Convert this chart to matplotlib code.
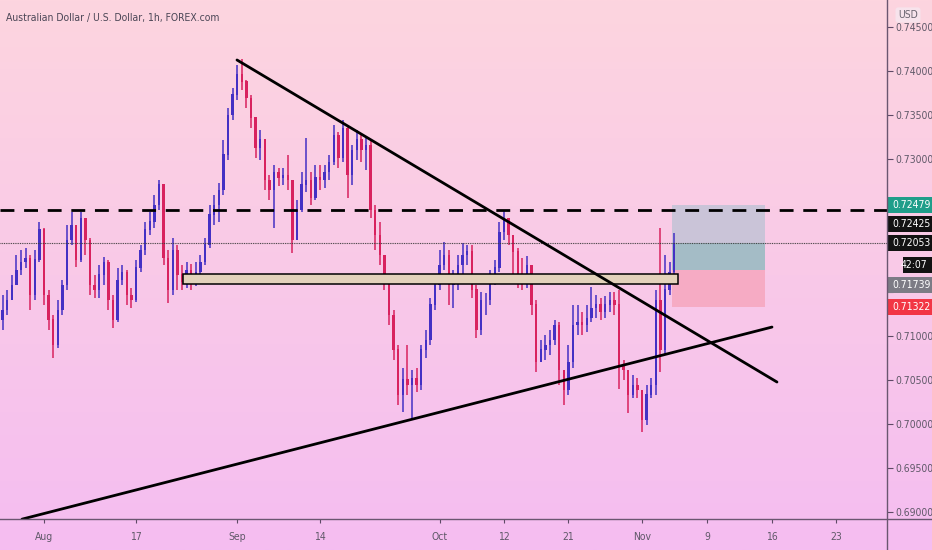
import numpy as np
import matplotlib.pyplot as plt
from matplotlib.patches import Rectangle
from matplotlib.transforms import blended_transform_factory
from matplotlib.lines import Line2D

plt.rcParams['font.family'] = ['DejaVu Sans']
plt.rcParams['font.stretch'] = 'condensed'

# AUD/USD, 12h bars starting Jul 27 2020; x unit = trading day (0 = Aug 3)
start_day = -5.0
bar_step = 0.5
first_open = 0.7125
close = [0.7118, 0.7129, 0.7140, 0.7157, 0.7174, 0.7183, 0.7188, 0.7146, 0.7186, 0.7220,
         0.7146, 0.7118, 0.7089, 0.7129, 0.7157, 0.7208, 0.7225, 0.7186, 0.7233, 0.7208,
         0.7157, 0.7152, 0.7169, 0.7183, 0.7140, 0.7118, 0.7163, 0.7172, 0.7146, 0.7140,
         0.7177, 0.7197, 0.7220, 0.7229, 0.7248, 0.7271, 0.7188, 0.7152, 0.7197, 0.7169,
         0.7161, 0.7174, 0.7163, 0.7172, 0.7183, 0.7203, 0.7237, 0.7248, 0.7265, 0.7305,
         0.7350, 0.7373, 0.7396, 0.7388, 0.7369, 0.7347, 0.7313, 0.7322, 0.7276, 0.7265,
         0.7285, 0.7279, 0.7282, 0.7276, 0.7208, 0.7242, 0.7271, 0.7276, 0.7256, 0.7279,
         0.7276, 0.7285, 0.7297, 0.7327, 0.7301, 0.7335, 0.7282, 0.7310, 0.7322, 0.7310,
         0.7316, 0.7242, 0.7214, 0.7191, 0.7163, 0.7123, 0.7084, 0.7033, 0.7050, 0.7044,
         0.7052, 0.7044, 0.7084, 0.7095, 0.7135, 0.7157, 0.7180, 0.7191, 0.7157, 0.7165,
         0.7180, 0.7191, 0.7195, 0.7152, 0.7106, 0.7140, 0.7140, 0.7165, 0.7177, 0.7217,
         0.7233, 0.7214, 0.7195, 0.7169, 0.7163, 0.7180, 0.7135, 0.7070, 0.7084, 0.7089,
         0.7095, 0.7112, 0.7061, 0.7038, 0.7070, 0.7112, 0.7115, 0.7112, 0.7120, 0.7131,
         0.7135, 0.7127, 0.7135, 0.7140, 0.7135, 0.7067, 0.7061, 0.7033, 0.7044, 0.7038,
         0.7004, 0.7033, 0.7044, 0.7140, 0.7084, 0.7152, 0.7172, 0.7205]
high = [0.7135, 0.7146, 0.7152, 0.7169, 0.7191, 0.7197, 0.7199, 0.7191, 0.7197, 0.7229,
        0.7222, 0.7152, 0.7123, 0.7140, 0.7163, 0.7225, 0.7240, 0.7220, 0.7240, 0.7233,
        0.7211, 0.7169, 0.7180, 0.7189, 0.7186, 0.7146, 0.7177, 0.7180, 0.7174, 0.7154,
        0.7186, 0.7203, 0.7229, 0.7240, 0.7259, 0.7276, 0.7267, 0.7197, 0.7211, 0.7203,
        0.7180, 0.7183, 0.7181, 0.7183, 0.7191, 0.7211, 0.7248, 0.7259, 0.7273, 0.7322,
        0.7358, 0.7381, 0.7407, 0.7414, 0.7390, 0.7373, 0.7344, 0.7333, 0.7322, 0.7282,
        0.7293, 0.7290, 0.7290, 0.7305, 0.7276, 0.7254, 0.7286, 0.7324, 0.7286, 0.7293,
        0.7293, 0.7293, 0.7305, 0.7339, 0.7331, 0.7344, 0.7339, 0.7316, 0.7333, 0.7327,
        0.7326, 0.7322, 0.7248, 0.7229, 0.7191, 0.7169, 0.7129, 0.7089, 0.7063, 0.7089,
        0.7061, 0.7063, 0.7089, 0.7106, 0.7143, 0.7165, 0.7197, 0.7206, 0.7197, 0.7174,
        0.7191, 0.7205, 0.7203, 0.7203, 0.7157, 0.7149, 0.7148, 0.7174, 0.7186, 0.7229,
        0.7241, 0.7233, 0.7214, 0.7199, 0.7188, 0.7190, 0.7174, 0.7140, 0.7095, 0.7101,
        0.7106, 0.7118, 0.7115, 0.7055, 0.7089, 0.7135, 0.7135, 0.7127, 0.7135, 0.7155,
        0.7146, 0.7143, 0.7145, 0.7149, 0.7149, 0.7152, 0.7072, 0.7061, 0.7055, 0.7052,
        0.7033, 0.7044, 0.7052, 0.7152, 0.7222, 0.7191, 0.7183, 0.7216]
low = [0.7101, 0.7106, 0.7123, 0.7140, 0.7157, 0.7169, 0.7177, 0.7129, 0.7140, 0.7183,
       0.7135, 0.7106, 0.7075, 0.7086, 0.7123, 0.7152, 0.7203, 0.7178, 0.7183, 0.7191,
       0.7146, 0.7143, 0.7143, 0.7157, 0.7129, 0.7109, 0.7115, 0.7157, 0.7135, 0.7131,
       0.7138, 0.7172, 0.7191, 0.7214, 0.7222, 0.7242, 0.7180, 0.7137, 0.7146, 0.7152,
       0.7152, 0.7154, 0.7152, 0.7156, 0.7161, 0.7180, 0.7199, 0.7225, 0.7229, 0.7259,
       0.7299, 0.7344, 0.7367, 0.7379, 0.7358, 0.7335, 0.7301, 0.7299, 0.7265, 0.7254,
       0.7222, 0.7270, 0.7271, 0.7265, 0.7194, 0.7208, 0.7240, 0.7263, 0.7248, 0.7254,
       0.7265, 0.7267, 0.7276, 0.7293, 0.7290, 0.7297, 0.7256, 0.7271, 0.7299, 0.7297,
       0.7288, 0.7233, 0.7197, 0.7180, 0.7152, 0.7112, 0.7072, 0.7021, 0.7013, 0.7033,
       0.7004, 0.7036, 0.7038, 0.7075, 0.7089, 0.7129, 0.7152, 0.7174, 0.7135, 0.7131,
       0.7152, 0.7169, 0.7180, 0.7143, 0.7097, 0.7101, 0.7123, 0.7135, 0.7157, 0.7172,
       0.7208, 0.7203, 0.7169, 0.7154, 0.7152, 0.7154, 0.7123, 0.7059, 0.7070, 0.7072,
       0.7078, 0.7089, 0.7044, 0.7021, 0.7033, 0.7063, 0.7101, 0.7101, 0.7104, 0.7115,
       0.7120, 0.7118, 0.7120, 0.7127, 0.7123, 0.7040, 0.7050, 0.7012, 0.7029, 0.7029,
       0.6991, 0.6999, 0.7029, 0.7033, 0.7059, 0.7078, 0.7146, 0.7163]

date_ticks = [0, 10, 21, 30, 43, 50, 57, 65, 72.1, 79.1, 86.1]
date_labels = ['Aug', '17', 'Sep', '14', 'Oct', '12', '21', 'Nov', '9', '16', '23']
price_ticks = [0.690, 0.695, 0.700, 0.705, 0.710, 0.715, 0.720, 0.725, 0.730, 0.735, 0.740, 0.745]
hidden_ticks = [0.715, 0.720, 0.725]  # covered by the price labels

resistance = 0.72425
last_price = 0.72053
zone_days = (15.1, 68.9)
zone_prices = (0.71585, 0.71698)
box_days = (68.26, 78.37)
target, entry, stop = 0.72479, 0.71739, 0.71322
down_trend = ([20.98, 79.67], [0.74125, 0.70474])
up_trend = ([-2.39, 79.13], [0.68919, 0.71097])

# right scale labels: (text, position, colour)
scale_labels = [('0.72479', 0.72479, '#1f9e8a'),
                ('0.72425', 0.72262, '#121212'),
                ('0.72053', 0.72053, '#121212'),
                ('0.71739', 0.71570, '#7c7b85'),
                ('0.71322', 0.71322, '#f23645')]

W, H = 932, 550
fig = plt.figure(figsize=(W / 100, H / 100), dpi=100)

bg = fig.add_axes([0, 0, 1, 1], zorder=-5)
grad = np.linspace(0, 1, 256)[:, None]
top_c = np.array([253, 213, 223]) / 255
bot_c = np.array([245, 189, 241]) / 255
img = top_c[None, None, :] * (1 - grad[..., None]) + bot_c[None, None, :] * grad[..., None]
bg.imshow(img, aspect='auto', extent=[0, 1, 0, 1])
bg.axis('off')

ax = fig.add_axes([0, 31 / H, 887 / W, 519 / H])
ax.set_facecolor('none')
ax.set_xlim(-4.78, 91.63)
ax.set_ylim(0.68921, 0.74805)

opens = [first_open] + close[:-1]
days = start_day + bar_step * np.arange(len(close))
up = np.array(close) >= np.array(opens)
cols = np.where(up, '#4430c4', '#d8225f')
ax.vlines(days, low, high, colors=cols, lw=1.1, zorder=3)
ax.bar(days, np.abs(np.array(close) - np.array(opens)) + 0.00004,
       bottom=np.minimum(close, opens), width=0.26, color=cols, zorder=3)

# horizontal levels
ax.axhline(resistance, color='black', lw=2, dashes=(5, 3.5), zorder=4)
ax.axhline(last_price, color='#3a3a3a', lw=0.8, dashes=(0.8, 0.8), zorder=4)

# support/resistance zone
ax.add_patch(Rectangle((zone_days[0], zone_prices[0]), zone_days[1] - zone_days[0],
                       zone_prices[1] - zone_prices[0], facecolor='#e3d2bb',
                       edgecolor='black', lw=1.1, zorder=5))

# long position tool
bw = box_days[1] - box_days[0]
ax.add_patch(Rectangle((box_days[0], last_price), bw, target - last_price,
                       facecolor='#cac4d8', edgecolor='none', zorder=2))
ax.add_patch(Rectangle((box_days[0], entry), bw, last_price - entry,
                       facecolor='#a4bcc6', edgecolor='none', zorder=2))
ax.add_patch(Rectangle((box_days[0], stop), bw, entry - stop,
                       facecolor='#f6abc4', edgecolor='none', zorder=2))

# trendlines
ax.plot(*down_trend, color='black', lw=2, zorder=6, solid_capstyle='round')
ax.plot(*up_trend, color='black', lw=2, zorder=6, solid_capstyle='round')

# axes styling
for s in ['top', 'left', 'right', 'bottom']:
    ax.spines[s].set_visible(False)
ax.yaxis.tick_right()
ax.set_yticks(price_ticks)
ax.set_yticklabels(['' if p in hidden_ticks else f'{p:.5f}' for p in price_ticks])
ax.tick_params(axis='y', direction='out', length=4, width=0.8, color='#5e4a66',
               labelsize=7.5, labelcolor='#5f5868', pad=2)
ax.set_xticks(date_ticks)
ax.set_xticklabels(date_labels)
ax.tick_params(axis='x', direction='out', length=3, width=0.8, color='#5e4a66',
               labelsize=7.5, labelcolor='#5f5868', pad=6)

axis_col = '#6a5670'
fig.add_artist(Line2D([887 / W, 887 / W], [0, 1], color=axis_col, lw=1))
fig.add_artist(Line2D([0, 1], [31 / H, 31 / H], color=axis_col, lw=1))

# price scale labels
tr = blended_transform_factory(ax.transAxes, ax.transData)
lab_h = 16 / 8820
for txt, pos, c in scale_labels:
    ax.add_patch(Rectangle((1.0015, pos - lab_h / 2), 0.055, lab_h, transform=tr,
                           facecolor=c, edgecolor='none', clip_on=False, zorder=10))
    ax.text(1.0065, pos, txt, transform=tr, color='white', fontsize=7.5,
            va='center', ha='left', clip_on=False, zorder=11)
ax.add_patch(Rectangle((1.018, 0.71805 - lab_h / 2), 0.04, lab_h, transform=tr,
                       facecolor='#121212', edgecolor='none', clip_on=False, zorder=10))
ax.text(1.046, 0.71805, '42:07', transform=tr, color='white', fontsize=7.5,
        va='center', ha='right', clip_on=False, zorder=11)

fig.text(908 / W, 1 - 15 / H, 'USD', ha='center', va='center', fontsize=7.5, color='#6a6470',
         bbox=dict(boxstyle='round,pad=0.25', facecolor='#f7e3ec', edgecolor='none'))

fig.text(6 / W, 1 - 18 / H, 'Australian Dollar / U.S. Dollar, 1h, FOREX.com',
         ha='left', va='center', fontsize=7.5, color='#4b4656')

fig.savefig('out.png', dpi=100)
